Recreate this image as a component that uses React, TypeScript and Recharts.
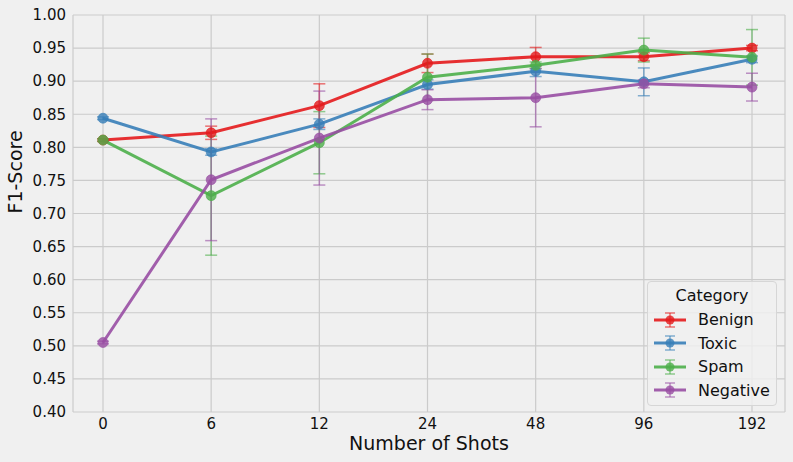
import React from "react";
import {
  LineChart,
  Line,
  XAxis,
  YAxis,
  CartesianGrid,
  ErrorBar,
} from "recharts";

const shots = ["0", "6", "12", "24", "48", "96", "192"];

const benign = [0.811, 0.822, 0.863, 0.927, 0.937, 0.937, 0.95];
const benignErr = [0.002, 0.01, 0.033, 0.014, 0.014, 0.006, 0.004];

const toxic = [0.844, 0.793, 0.835, 0.895, 0.915, 0.899, 0.933];
const toxicErr = [0.002, 0.005, 0.008, 0.007, 0.008, 0.021, 0.005];

const spam = [0.811, 0.727, 0.807, 0.906, 0.924, 0.947, 0.936];
const spamErr = [0.002, 0.09, 0.047, 0.035, 0.005, 0.018, 0.042];

const negative = [0.505, 0.751, 0.814, 0.872, 0.875, 0.896, 0.891];
const negativeErr = [0.002, 0.092, 0.071, 0.015, 0.044, 0.006, 0.021];

const yTicks = [0.4, 0.45, 0.5, 0.55, 0.6, 0.65, 0.7, 0.75, 0.8, 0.85, 0.9, 0.95, 1.0];

const series = [
  { key: "benign", name: "Benign", color: "#e41a1c" },
  { key: "toxic", name: "Toxic", color: "#377eb8" },
  { key: "spam", name: "Spam", color: "#4daf4a" },
  { key: "negative", name: "Negative", color: "#984ea3" },
];

const data = shots.map((s, i) => ({
  shots: s,
  benign: benign[i],
  benignErr: benignErr[i],
  toxic: toxic[i],
  toxicErr: toxicErr[i],
  spam: spam[i],
  spamErr: spamErr[i],
  negative: negative[i],
  negativeErr: negativeErr[i],
}));

const FONT = "'DejaVu Sans', sans-serif";

const LegendBox = () => (
  <div
    style={{
      position: "absolute",
      left: 647,
      top: 281,
      width: 116,
      background: "rgba(240,240,240,0.8)",
      border: "1px solid #d6d6d6",
      borderRadius: 4,
      padding: "2px 6px 3px 6px",
      fontFamily: FONT,
      fontSize: 16,
      color: "#111",
    }}
  >
    <div style={{ textAlign: "center", marginBottom: 1, lineHeight: "23px" }}>Category</div>
    {series.map((s) => (
      <div key={s.key} style={{ display: "flex", alignItems: "center", height: 23.5 }}>
        <svg width={32} height={16} style={{ marginRight: 12 }}>
          <line x1={0} y1={8} x2={32} y2={8} stroke={s.color} strokeWidth={3} strokeOpacity={0.9} />
          <line x1={16} y1={1} x2={16} y2={15} stroke={s.color} strokeWidth={1.5} strokeOpacity={0.6} />
          <line x1={11} y1={1} x2={21} y2={1} stroke={s.color} strokeWidth={1.5} strokeOpacity={0.6} />
          <line x1={11} y1={15} x2={21} y2={15} stroke={s.color} strokeWidth={1.5} strokeOpacity={0.6} />
          <circle cx={16} cy={8} r={4.5} fill={s.color} fillOpacity={0.8} />
        </svg>
        <span>{s.name}</span>
      </div>
    ))}
  </div>
);

export default function App() {
  return (
    <div
      style={{
        position: "absolute",
        left: 0,
        top: 0,
        width: 793,
        height: 462,
        background: "#f0f0f0",
        fontFamily: FONT,
      }}
    >
      <LineChart
        width={793}
        height={462}
        data={data}
        margin={{ top: 15, right: 8, bottom: 0, left: 0 }}
      >
        <CartesianGrid stroke="#cbcbcb" strokeWidth={1.2} />
        <XAxis
          dataKey="shots"
          type="category"
          padding={{ left: 30, right: 33 }}
          axisLine={false}
          tickLine={false}
          tickSize={0}
          tickMargin={6}
          height={50}
          tick={{ fill: "#111", fontSize: 15, fontFamily: FONT }}
          label={{
            value: "Number of Shots",
            position: "insideBottom",
            offset: 12,
            fill: "#111",
            fontSize: 19,
            fontFamily: FONT,
          }}
        />
        <YAxis
          type="number"
          domain={[0.4, 1.0]}
          ticks={yTicks}
          tickFormatter={(v: number) => v.toFixed(2)}
          axisLine={false}
          tickLine={false}
          tickSize={0}
          tickMargin={7}
          width={73}
          tick={{ fill: "#111", fontSize: 15, fontFamily: FONT }}
          label={{
            value: "F1-Score",
            angle: -90,
            position: "insideLeft",
            offset: 15,
            fill: "#111",
            fontSize: 19,
            fontFamily: FONT,
          }}
        />
        {series.map((s) => (
          <Line
            key={s.key}
            dataKey={s.key}
            name={s.name}
            stroke={s.color}
            strokeWidth={3}
            strokeOpacity={0.9}
            dot={{ r: 5, fill: s.color, fillOpacity: 0.8, stroke: s.color, strokeOpacity: 0.6, strokeWidth: 1 }}
            activeDot={false}
            isAnimationActive={false}
          >
            <ErrorBar
              dataKey={`${s.key}Err`}
              width={6}
              stroke={s.color}
              strokeWidth={1.5}
              strokeOpacity={0.6}
            />
          </Line>
        ))}
      </LineChart>
      <LegendBox />
    </div>
  );
}
